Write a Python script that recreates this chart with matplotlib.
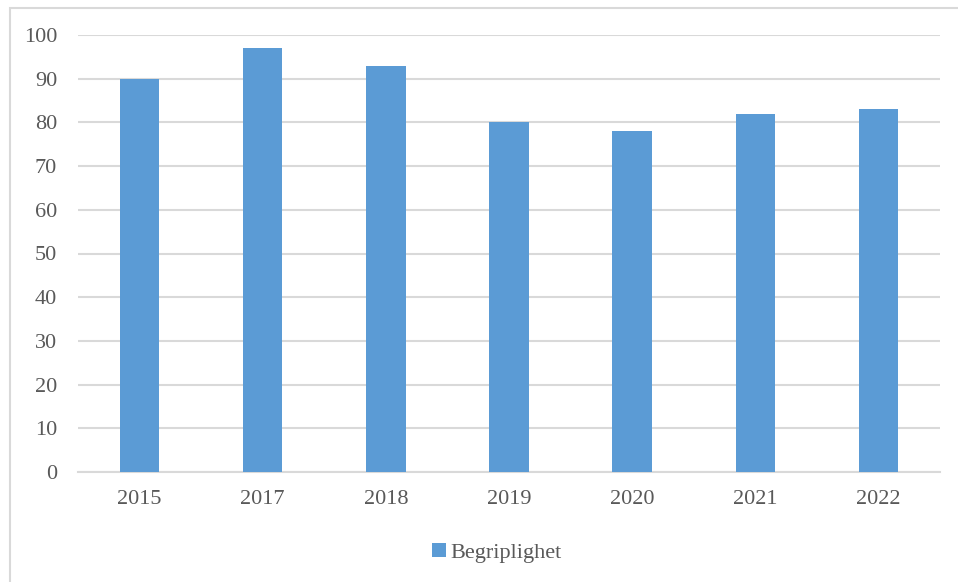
import matplotlib
matplotlib.use('Agg')
import matplotlib.pyplot as plt
from matplotlib.patches import Rectangle

years = ['2015', '2017', '2018', '2019', '2020', '2021', '2022']
begriplighet = [90, 97, 93, 80, 78, 82, 83]

plt.rcParams['font.family'] = ['Liberation Serif', 'DejaVu Serif']
text_col = '#595959'
grid_col = '#D9D9D9'
bar_col = '#5B9BD5'

fig = plt.figure(figsize=(9.58, 5.82), dpi=100)
ax = fig.add_axes([78/958, 1 - 472/582, (940-78)/958, (472-35)/582])

x = range(len(years))
ax.bar(x, begriplighet, width=0.32, color=bar_col, label='Begriplighet', zorder=3)

ax.set_xlim(-0.5, len(years) - 0.5)
ax.set_ylim(0, 100)
ax.set_yticks(range(0, 101, 10))
ax.set_xticks(list(x))
ax.set_xticklabels(years)
ax.yaxis.grid(True, color=grid_col, lw=1.5, zorder=0)
ax.tick_params(axis='both', length=0, labelsize=16, labelcolor=text_col)
ax.tick_params(axis='y', pad=15)
ax.tick_params(axis='x', pad=13)
for s in ['top', 'right', 'left']:
    ax.spines[s].set_visible(False)
ax.spines['bottom'].set_color(grid_col)
ax.spines['bottom'].set_linewidth(1.5)

leg = fig.legend(loc='center', bbox_to_anchor=(497/958, 1 - 553/582), frameon=False,
                 fontsize=16, handlelength=0.6, handleheight=0.6, handletextpad=0.2)
for t in leg.get_texts():
    t.set_color(text_col)

# outer chart border
fig.patches.append(Rectangle((10/958, -0.1), 1.1, 1 - 8/582 + 0.1, transform=fig.transFigure,
                             fill=False, edgecolor=grid_col, lw=1.5))

fig.savefig('out.png', dpi=100)
